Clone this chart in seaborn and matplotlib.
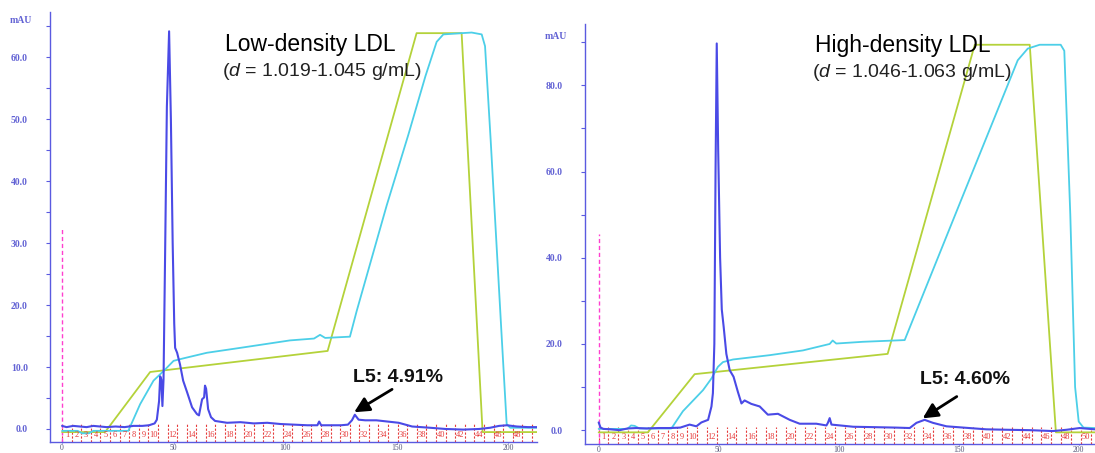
import matplotlib
matplotlib.use("Agg")
import matplotlib.pyplot as plt
import seaborn as sns
import numpy as np

# %% low-density LDL run (left)
low_uv_x = [0, 2, 5, 8, 11, 14, 17, 20, 24, 28, 32, 36, 39, 41.5, 42.5, 43.5, 44.0, 44.5, 45.0, 45.5,
            46.2, 47.0, 48.0, 48.8, 49.6, 50.3, 50.7, 51.6, 52.9, 54.3, 56.1, 58.3, 60.5, 61.4, 62.8, 63.7,
            64.1, 64.6, 65.5, 66.8, 68.6, 74, 80, 86, 92, 98, 104, 110, 114.5, 115.3, 116.2, 120, 125,
            128.2, 130, 131.3, 133, 136, 141, 146, 151, 157, 165, 172, 180, 187, 192, 196, 199.5, 204,
            209, 213]
low_uv_y = [0.5, 0.3, 0.5, 0.4, 0.3, 0.5, 0.4, 0.3, 0.4, 0.3, 0.5, 0.5, 0.6, 0.9, 1.5, 4.5, 8.5, 8.0, 3.7, 8.0,
            28, 52, 64.2, 50, 30, 17, 13.1, 12.3, 10.4, 7.8, 5.9, 3.5, 2.4, 2.2, 4.8, 5.1,
            7.0, 6.5, 3.2, 1.9, 1.3, 1.0, 1.1, 0.9, 1.0, 0.8, 0.7, 0.6, 0.6, 1.2, 0.6, 0.6, 0.6,
            0.7, 1.4, 2.3, 1.5, 1.4, 1.4, 1.2, 1.0, 0.4, 0.2, 0.0, -0.1, 0.0, 0.2, 0.5, 0.6, 0.4,
            0.3, 0.3]
low_grad_x = [0, 19.3, 39.5, 119.1, 159.0, 179.2, 188.6, 213]
low_grad_y = [-0.5, -0.5, 9.2, 12.6, 63.9, 63.9, -0.5, -0.5]
low_cond_x = [0, 7, 9, 12, 14, 29.7, 35, 41, 46.2, 50, 54.4, 64.9, 80, 102.2, 113, 115.7, 118, 129.1,
              132.1, 145.6, 155.3, 163, 168, 171, 179.2, 183.7, 188.2, 189.7, 192.2, 197.2, 199.4, 201, 213]
low_cond_y = [-0.3, -0.3, -0.7, -0.7, -0.3, -0.3, 4, 7.8, 9.6, 11, 11.4, 12.3, 13.1, 14.3, 14.6, 15.2, 14.7, 14.9,
              19, 36.1, 47.5, 57, 62.5, 63.7, 63.9, 64.0, 63.7, 61.8, 46.8, 14.7, 0.8, 0.2, 0.2]

# %% high-density LDL run (right)
high_uv_x = [0, 0.8, 2, 5, 8.75, 12, 15.7, 20, 25, 29.6, 34, 37.9, 40.7, 42.8, 45.6, 47.0, 47.6, 48.2, 48.7, 49.2,
             49.8, 50.6, 51.3, 52.1, 53.2, 54.6, 56.2, 58.0, 59.5, 60.8, 63.6, 67.1, 70.5, 74.7, 79.6, 83.75,
             90.7, 94.9, 95.5, 96.25, 97, 106, 115, 124, 129.6, 132.4, 135.8, 139.3, 144.9, 152, 161.5, 170,
             180, 189.3, 195, 200.4, 206.7]
high_uv_y = [1.8, 0.6, 0.3, 0.2, 0.0, 0.4, 0.5, 0.4, 0.5, 0.5, 0.6, 1.3, 0.9, 1.8, 2.4, 5.5, 8.6, 20, 60, 89.7,
             65, 40, 28, 23.9, 17.7, 13.9, 12.4, 8.9, 6.2, 6.9, 6.1, 5.5, 3.6, 3.8, 2.4, 1.5,
             1.5, 1.1, 1.7, 2.8, 1.3, 0.8, 0.7, 0.6, 0.5, 1.7, 2.4, 1.7, 0.9, 0.6, 0.2, 0.1,
             0.0, -0.2, 0.1, 0.5, 0.2]
high_grad_x = [0, 20.5, 40, 120.4, 156.7, 179.6, 190.5, 206.7]
high_grad_y = [-0.5, -0.5, 13.0, 17.7, 89.4, 89.4, -0.5, -0.5]
high_cond_x = [0, 12, 13.5, 15, 17, 30.3, 35.1, 43.5, 47, 49.7, 51.8, 56, 71.25, 85.1, 96.25, 97.5, 99, 110,
               127.5, 151.25, 174.6, 178.75, 183.75, 192.5, 194, 196.5, 198.5, 200, 202, 206.7]
high_cond_y = [0.3, 0.3, 1.1, 1.0, 0.4, 0.4, 4.4, 9.3, 12, 14.7, 15.8, 16.4, 17.4, 18.5, 20, 20.8, 20.1, 20.5,
               20.9, 53.7, 85.8, 88.5, 89.4, 89.4, 88, 50, 10, 2, 0.6, 0.5]

x_ticks = [0, 50, 100, 150, 200]

# %%
sns.set_style("white")
plt.rcParams['font.family'] = ['Liberation Sans', 'DejaVu Sans']
plt.rcParams['mathtext.fontset'] = 'custom'
plt.rcParams['mathtext.it'] = 'Liberation Sans:italic'
plt.rcParams['mathtext.rm'] = 'Liberation Sans'

BLUE = '#4a4ae6'
AXBLUE = '#5a5ae0'
GREEN = '#b4d23a'
CYAN = '#4ccfe8'
RED = '#e63a3a'
PINK = '#ff3fcf'


def draw_run(ax, uv_x, uv_y, grad_x, grad_y, cond_x, cond_y, xlim, ylim, major, pink_top,
             frac_w, title, sub, title_xy, sub_xy, label, label_xy, arrow_from, arrow_to):
    ax.set_xlim(*xlim)
    ax.set_ylim(*ylim)

    # fraction collector marks in the strip below zero
    bounds = np.arange(0, xlim[1], frac_w)
    ax.vlines(bounds, ylim[0], 0.8, colors=RED, linestyles=(0, (2, 1.5)), lw=0.8, zorder=1)
    for i, b in enumerate(bounds[:-1]):
        n = i + 1
        if n <= 10 or n % 2 == 0:
            ax.text(b + frac_w / 2, ylim[0] * 0.5, str(n), color=RED, fontsize=6,
                    ha='center', va='center', family='Liberation Serif', clip_on=True)

    ax.vlines([0], ylim[0], pink_top, colors=PINK, linestyles=(0, (3, 2)), lw=1.0, zorder=2)

    sns.lineplot(x=grad_x, y=grad_y, ax=ax, color=GREEN, lw=1.3, sort=False, estimator=None)
    sns.lineplot(x=cond_x, y=cond_y, ax=ax, color=CYAN, lw=1.3, sort=False, estimator=None)
    sns.lineplot(x=uv_x, y=uv_y, ax=ax, color=BLUE, lw=1.5, sort=False, estimator=None)

    for s in ['top', 'right']:
        ax.spines[s].set_visible(False)
    for s in ['left', 'bottom']:
        ax.spines[s].set_color(AXBLUE)
        ax.spines[s].set_linewidth(1.0)

    yt = np.arange(0, ylim[1], major)
    ax.set_yticks(yt)
    ax.set_yticklabels([f'{v:.1f}' for v in yt])
    ax.set_yticks(yt + major / 2, minor=True)
    ax.tick_params(axis='y', which='both', direction='out', length=3, width=0.8, color=AXBLUE,
                   left=True, pad=13, labelsize=7, labelcolor='#6262d4')
    for t in ax.get_yticklabels():
        t.set_family('Liberation Serif')
        t.set_fontweight('bold')
    ax.set_xticks(x_ticks)
    ax.set_xticklabels([str(v) for v in x_ticks])
    ax.tick_params(axis='x', direction='out', length=1, color=AXBLUE, bottom=True, pad=0.5,
                   labelsize=5.5, labelcolor='#555577')
    for t in ax.get_xticklabels():
        t.set_family('Liberation Serif')
    ax.set_xlabel('')
    ax.set_ylabel('')
    ax.grid(False)

    ax.annotate('mAU', xy=(0, ylim[1] - 1.4 * major / 10), xycoords=('axes fraction', 'data'),
                xytext=(-13, 0), textcoords='offset points', ha='right', va='center',
                fontsize=7, color='#6262d4', family='Liberation Serif', fontweight='bold',
                annotation_clip=False)

    ax.text(title_xy[0], title_xy[1], title, fontsize=16.5, ha='left', va='center', color='black')
    ax.text(sub_xy[0], sub_xy[1], sub, fontsize=14, ha='left', va='center', color='#222222')
    ax.text(label_xy[0], label_xy[1], label, fontsize=14, fontweight='bold', ha='center',
            va='center', color='#111111')
    ax.annotate('', xy=arrow_to, xytext=arrow_from,
                arrowprops=dict(arrowstyle='-|>,head_width=0.45,head_length=0.9', lw=2.0,
                                color='black', shrinkA=0, shrinkB=0))


fig = plt.figure(figsize=(10.95, 4.53), dpi=100)
ax1 = fig.add_axes([0.0457, 0.0243, 0.4447, 0.949])
ax2 = fig.add_axes([0.534, 0.0199, 0.4658, 0.927])

draw_run(ax1, low_uv_x, low_uv_y, low_grad_x, low_grad_y, low_cond_x, low_cond_y,
         xlim=(-5.4, 213), ylim=(-2.1, 67.3), major=10, pink_top=32.4, frac_w=4.3,
         title='Low-density LDL', sub=r'($d$ = 1.019-1.045 g/mL)',
         title_xy=(73.1, 62.1), sub_xy=(71.7, 57.7),
         label='L5: 4.91%', label_xy=(150.7, 8.3), arrow_from=(148, 6.4), arrow_to=(131, 2.7))

draw_run(ax2, high_uv_x, high_uv_y, high_grad_x, high_grad_y, high_cond_x, high_cond_y,
         xlim=(-5.8, 206.7), ylim=(-3.2, 94.2), major=20, pink_top=45.6, frac_w=4.1,
         title='High-density LDL', sub=r'($d$ = 1.046-1.063 g/mL)',
         title_xy=(90, 89.2), sub_xy=(88.75, 83),
         label='L5: 4.60%', label_xy=(152.5, 11.7), arrow_from=(149.2, 7.8), arrow_to=(135, 2.75))

fig.savefig('out.png', dpi=100)
